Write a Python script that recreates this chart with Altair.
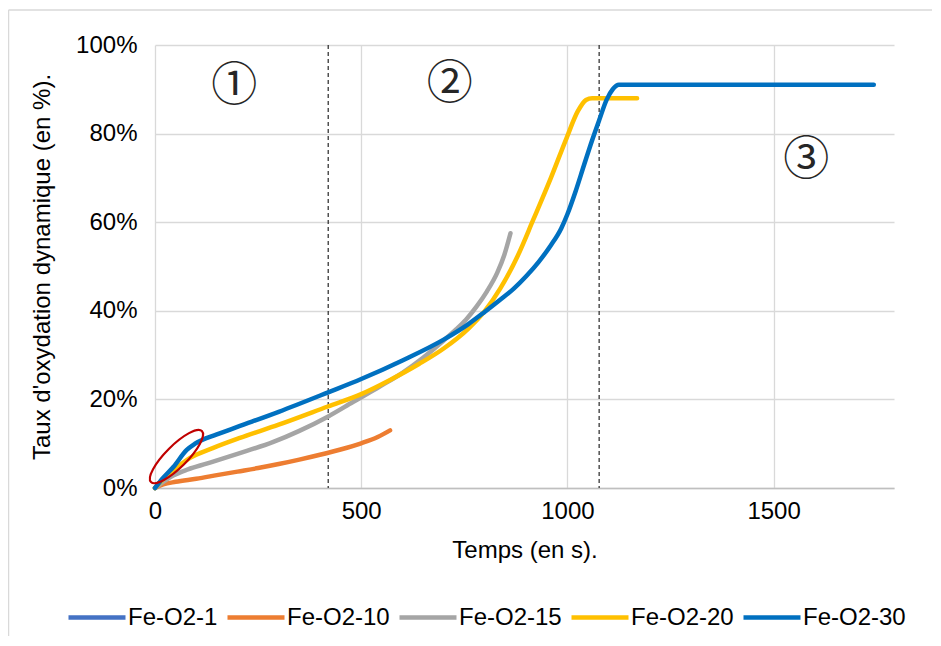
import altair as alt
import pandas as pd

# ---------------- data ----------------
series_names = ["Fe-O2-1", "Fe-O2-10", "Fe-O2-15", "Fe-O2-20", "Fe-O2-30"]
series_colors = ["#4472C4", "#ED7D31", "#A5A5A5", "#FFC000", "#0070C0"]

t_10 = [0, 20, 50, 100, 150, 200, 250, 300, 350, 400, 450, 500, 540, 570]
y_10 = [0, 0.8, 1.4, 2.1, 2.9, 3.7, 4.5, 5.4, 6.4, 7.5, 8.7, 10.1, 11.5, 13.0]

t_15 = [0, 20, 44, 80, 125, 200, 287, 350, 419, 480, 545, 600, 650, 700, 730, 754, 780, 805, 830, 847, 862]
y_15 = [0, 1.4, 2.8, 4.2, 5.5, 7.7, 10.4, 12.9, 16.1, 19.4, 22.9, 26.0, 29.4, 33.3, 35.8, 38.0, 41.0,
        44.4, 48.6, 52.6, 57.5]

t_20 = [0, 20, 45, 85, 140, 206, 300, 419, 500, 570, 640, 700, 760, 800, 837, 880, 917, 960, 998,
        1025, 1045, 1060, 1100, 1169]
y_20 = [0, 2.0, 4.0, 6.8, 9.0, 11.3, 14.3, 18.4, 21.2, 24.4, 28.0, 31.5, 36.0, 40.0, 45.0, 52.5, 60.5,
        70.0, 79.0, 85.0, 87.6, 88.0, 88.0, 88.0]

t_30 = [0, 20, 45, 77, 97, 150, 206, 300, 420, 500, 600, 700, 760, 800, 837, 870, 900, 930, 960,
        985, 1000, 1020, 1040, 1060, 1077, 1095, 1110, 1125, 1200, 1743]
y_30 = [0, 2.3, 4.8, 8.6, 10.0, 12.1, 14.0, 17.2, 21.6, 24.6, 28.8, 33.5, 37.0, 39.8, 42.5, 45.0,
        47.8, 51.0, 54.8, 58.6, 61.8, 67.0, 72.8, 78.5, 83.0, 87.6, 90.0, 91.0, 91.0, 91.0]

x_ticks = [0, 500, 1000, 1500]
y_ticks = [0, 20, 40, 60, 80, 100]

phase_bounds = [420, 1077]
phase_labels = ["①", "②", "③"]
phase_label_t = [192, 715, 1579]
phase_label_y = [90.7, 91.3, 74.0]

ellipse_t = [52]
ellipse_y = [7.1]

# ---------------- tables ----------------
rows = []
for name, ts, ys in [("Fe-O2-10", t_10, y_10), ("Fe-O2-15", t_15, y_15),
                     ("Fe-O2-20", t_20, y_20), ("Fe-O2-30", t_30, y_30)]:
    for t, y in zip(ts, ys):
        rows.append({"serie": name, "t": t, "taux": y})
df = pd.DataFrame(rows)
df_bounds = pd.DataFrame({"t": phase_bounds})
df_labels = pd.DataFrame({"t": phase_label_t, "taux": phase_label_y, "txt": phase_labels})
df_ellipse = pd.DataFrame({"t": ellipse_t, "taux": ellipse_y})

FONT = "Liberation Sans"
FS = 24
x_scale = alt.Scale(domain=[0, 1792], nice=False, zero=False)
y_scale = alt.Scale(domain=[0, 100], nice=False)

lines = alt.Chart(df).mark_line(
    strokeWidth=4.5, strokeCap="round", strokeJoin="round", interpolate="monotone"
).encode(
    x=alt.X("t:Q", scale=x_scale, axis=alt.Axis(
        title="Temps (en s).", values=x_ticks, format="d", grid=True, ticks=False,
        labelFlush=False, domainColor="#BFBFBF", domainWidth=1.3, labelPadding=11,
        titleY=62, titleBaseline="middle")),
    y=alt.Y("taux:Q", scale=y_scale, axis=alt.Axis(
        title="Taux d'oxydation dynamique (en %).", values=y_ticks, grid=True, ticks=False,
        domain=False, labelExpr="datum.value + '%'", labelPadding=18, labelFlush=False,
        titleX=-113, titleY=221.5, titleBaseline="middle")),
    color=alt.Color("serie:N", scale=alt.Scale(domain=series_names, range=series_colors),
                    legend=alt.Legend(title=None, orient="none", direction="horizontal",
                                      legendX=-89, legendY=541.5, symbolType="stroke",
                                      symbolSize=3250, symbolStrokeWidth=4.5,
                                      labelFontSize=FS, labelFont=FONT, labelColor="#000",
                                      labelOffset=0, columnPadding=0)),
)

bounds = alt.Chart(df_bounds).mark_rule(
    color="#262626", strokeWidth=1.2, strokeDash=[4, 3]
).encode(x=alt.X("t:Q", scale=x_scale))

labels = alt.Chart(df_labels).mark_text(
    font="Noto Sans CJK JP", fontSize=46, color="#262626", baseline="middle", align="center"
).encode(x=alt.X("t:Q", scale=x_scale), y=alt.Y("taux:Q", scale=y_scale), text="txt:N")

ellipse = alt.Chart(df_ellipse).mark_point(
    shape="M -1 0 A 1 0.3 0 1 1 1 0 A 1 0.3 0 1 1 -1 0 Z",
    size=5184, angle=315, filled=False, stroke="#C00000", strokeWidth=2.2, opacity=1
).encode(x=alt.X("t:Q", scale=x_scale), y=alt.Y("taux:Q", scale=y_scale))

frame = alt.Chart(df_bounds.head(1)).mark_rule(color="#D9D9D9", strokeWidth=1.5).encode(
    x=alt.value(-146.5), y=alt.value(-35), y2=alt.value(610))
frame_top = alt.Chart(df_bounds.head(1)).mark_rule(color="#D9D9D9", strokeWidth=1.5).encode(
    x=alt.value(-146.5), x2=alt.value(800), y=alt.value(-35))

chart = alt.layer(frame, frame_top, bounds, lines, labels, ellipse).properties(
    width=739, height=443,
    autosize=alt.AutoSizeParams(type="none"),
    padding={"left": 147, "top": 37, "right": 38, "bottom": 148},
).configure_view(stroke=None).configure_axis(
    gridColor="#D9D9D9", gridWidth=1.3, labelFont=FONT, titleFont=FONT,
    labelFontSize=FS, titleFontSize=FS, labelColor="#000", titleColor="#000",
    titleFontWeight="normal"
)

chart.save("out.html", embed_options={"renderer": "svg", "actions": False})
